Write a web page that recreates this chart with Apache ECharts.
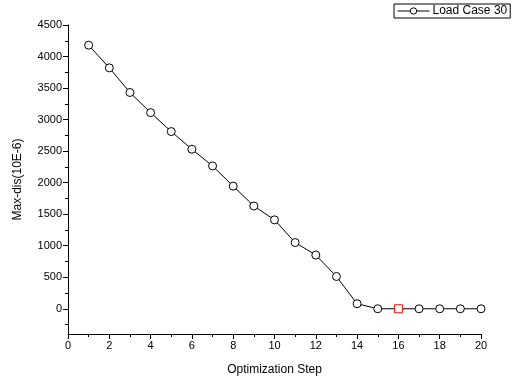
<!DOCTYPE html>
<html>
<head>
<meta charset="utf-8">
<script src="https://cdn.jsdelivr.net/npm/echarts@6/dist/echarts.min.js"></script>
<style>html,body{margin:0;padding:0;background:#fff}#c{width:527px;height:383px}</style>
</head>
<body>
<div id="c"></div>
<script>
var seriesName = 'Load Case 30';
var steps = [1,2,3,4,5,6,7,8,9,10,11,12,13,14,15,16,17,18,19,20];
var maxDis = [4180,3820,3430,3110,2810,2530,2265,1945,1630,1410,1050,852,512,80,0,0,0,0,0,0];
var highlightStep = 16;
var yMajorTicks = [0,500,1000,1500,2000,2500,3000,3500,4000,4500];
var yMinorTicks = [-250,250,750,1250,1750,2250,2750,3250,3750,4250];
var xLabel = 'Optimization Step';
var yLabel = 'Max-dis(10E-6)';

var font = 'Liberation Sans, Arial, sans-serif';
var data = steps.map(function(s, i){
  var d = {value:[s, maxDis[i]]};
  if (s === highlightStep) {
    d.symbol = 'rect';
    d.symbolSize = 8;
    d.itemStyle = {color:'#ffffff', borderColor:'#ff0000', borderWidth:1};
  }
  return d;
});
var chart = echarts.init(document.getElementById('c'));
chart.setOption({
  animation:false,
  backgroundColor:'#fff',
  grid:{left:68, right:46, top:25, bottom:49},
  legend:{
    left:394, top:4, width:132,
    padding:[1,3,1,3],
    borderColor:'#000', borderWidth:1,
    itemWidth:32, itemHeight:8, itemGap:0,
    lineStyle:{width:1, color:'#000'},
    itemStyle:{color:'#fff', borderColor:'#000', borderWidth:1},
    textStyle:{fontFamily:font, fontSize:12, color:'#000', padding:[0,0,0,-2]},
    data:[seriesName]
  },
  xAxis:{
    type:'value', min:0, max:20, interval:2,
    name:xLabel, nameLocation:'middle', nameGap:30,
    nameTextStyle:{fontFamily:font, fontSize:12, color:'#000'},
    axisLine:{show:true, onZero:false, lineStyle:{color:'#000', width:1}},
    axisTick:{show:true, inside:false, length:5, lineStyle:{color:'#000'}},
    minorTick:{show:true, splitNumber:2, length:3, lineStyle:{color:'#000'}},
    axisLabel:{fontFamily:font, fontSize:11, color:'#000', margin:6},
    splitLine:{show:false}
  },
  yAxis:[{
    type:'value', min:-400, max:4500,
    name:yLabel, nameLocation:'middle', nameGap:44,
    nameTextStyle:{fontFamily:font, fontSize:12, color:'#000'},
    axisLine:{show:true, onZero:false, lineStyle:{color:'#000', width:1}},
    axisTick:{show:true, length:5, customValues:yMajorTicks, lineStyle:{color:'#000'}},
    axisLabel:{fontFamily:font, fontSize:11, color:'#000', margin:6, customValues:yMajorTicks,
      formatter:function(v){return String(v);}},
    splitLine:{show:false}
  },{
    type:'value', min:-400, max:4500, position:'left',
    axisLine:{show:false},
    axisTick:{show:true, length:3, customValues:yMinorTicks, lineStyle:{color:'#000'}},
    axisLabel:{show:false},
    splitLine:{show:false}
  }],
  series:[{
    name:seriesName,
    type:'line',
    yAxisIndex:0,
    data:data,
    symbol:'circle',
    symbolSize:8,
    showAllSymbol:true,
    lineStyle:{color:'#000', width:1},
    itemStyle:{color:'#fff', borderColor:'#000', borderWidth:1},
    z:3
  }]
});
</script>
</body>
</html>
